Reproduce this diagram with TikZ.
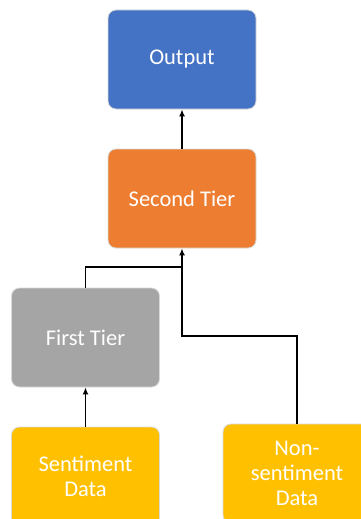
\documentclass[tikz,border=0pt]{standalone}
\usepackage{fontspec}
\setmainfont{Carlito}
\usetikzlibrary{arrows.meta}

\begin{document}
\begin{tikzpicture}[x=1pt, y=-1pt,
    tierbox/.style={rectangle, rounded corners=8pt, draw=white!85!black, line width=0.8pt,
      minimum width=148pt, minimum height=99pt, text=white, align=center,
      font=\fontsize{22.5}{25}\selectfont},
    link/.style={line width=1.4pt, -{Latex[length=7pt,width=6pt]}}]
  \useasboundingbox (0,0) rectangle (360,519);

  \node [tierbox, fill={rgb,255:red,68;green,114;blue,196}] (output) at (182,59.5) {Output};
  \node [tierbox, fill={rgb,255:red,237;green,125;blue,49}] (second) at (182,198.5) {Second Tier};
  \node [tierbox, fill={rgb,255:red,165;green,165;blue,165}] (first) at (85.5,337.5) {First Tier};
  \node [tierbox, fill={rgb,255:red,255;green,192;blue,0}] (sentiment) at (85.5,476.5) {Sentiment\\Data};
  \node [tierbox, fill={rgb,255:red,255;green,192;blue,0}] (nonsentiment) at (297,473.5) {Non-\\sentiment\\Data};

  \coordinate (merge) at (182,267);
  \coordinate (bend) at (182,336);

  \draw [link] (second) -- (output);
  \draw [link] (sentiment) -- (first);
  \draw [line width=1.4pt] (first.north) |- (merge);
  \draw [link] (nonsentiment.north) |- (bend) -- (second.south);
\end{tikzpicture}
\end{document}
